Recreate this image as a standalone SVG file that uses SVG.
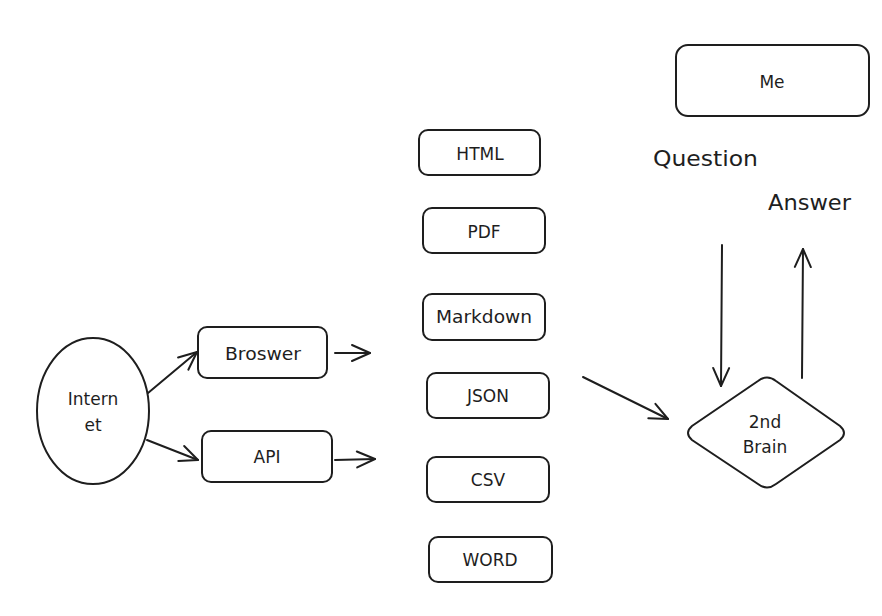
<svg xmlns="http://www.w3.org/2000/svg" width="882" height="616" viewBox="0 0 882 616">
<defs>
<style>
.s{fill:none;stroke:#1e1e1e;stroke-width:2;stroke-linecap:round;stroke-linejoin:round}
.b{fill:#fff;stroke:#1e1e1e;stroke-width:2}
.t{font-family:"DejaVu Sans","Liberation Sans",sans-serif;font-size:17px;fill:#1e1e1e;text-anchor:middle}
.l{font-family:"DejaVu Sans","Liberation Sans",sans-serif;font-size:21px;fill:#1e1e1e}
</style>
<marker id="ah" viewBox="0 0 22 22" refX="20" refY="11" markerWidth="22" markerHeight="22" markerUnits="userSpaceOnUse" orient="auto">
<path d="M2,3 L20,11 L2,19" fill="none" stroke="#1e1e1e" stroke-width="2" stroke-linecap="round" stroke-linejoin="round"/>
</marker>
</defs>
<rect width="882" height="616" fill="#fff"/>
<g id="connectors">
<line class="s" x1="148" y1="393" x2="197" y2="352" marker-end="url(#ah)"/>
<line class="s" x1="147" y1="440" x2="198" y2="460" marker-end="url(#ah)"/>
<line class="s" x1="335" y1="353" x2="370" y2="353" marker-end="url(#ah)"/>
<line class="s" x1="335" y1="460" x2="375" y2="459" marker-end="url(#ah)"/>
<line class="s" x1="583" y1="377" x2="668" y2="419" marker-end="url(#ah)"/>
<line class="s" x1="722" y1="245" x2="721" y2="386" marker-end="url(#ah)"/>
<line class="s" x1="802" y1="378" x2="803" y2="249" marker-end="url(#ah)"/>
</g>
<g id="internet">
<ellipse class="b" cx="93" cy="411" rx="56" ry="73"/>
<text class="t" x="93" y="405">Intern</text>
<text class="t" x="93" y="431">et</text>
</g>
<g id="browser">
<rect class="b" x="198" y="327" width="129" height="51" rx="9"/>
<text class="t" x="263" y="360" textLength="76" lengthAdjust="spacingAndGlyphs">Broswer</text>
</g>
<g id="api">
<rect class="b" x="202" y="431" width="130" height="51" rx="9"/>
<text class="t" x="267" y="463">API</text>
</g>
<g id="html">
<rect class="b" x="419" y="130" width="121" height="45" rx="9"/>
<text class="t" x="480" y="160">HTML</text>
</g>
<g id="pdf">
<rect class="b" x="423" y="208" width="122" height="45" rx="9"/>
<text class="t" x="484" y="238">PDF</text>
</g>
<g id="markdown">
<rect class="b" x="423" y="294" width="122" height="46" rx="9"/>
<text class="t" x="484" y="323" textLength="96" lengthAdjust="spacingAndGlyphs">Markdown</text>
</g>
<g id="json">
<rect class="b" x="427" y="373" width="122" height="45" rx="9"/>
<text class="t" x="488" y="402">JSON</text>
</g>
<g id="csv">
<rect class="b" x="427" y="457" width="122" height="45" rx="9"/>
<text class="t" x="488" y="486">CSV</text>
</g>
<g id="word">
<rect class="b" x="429" y="537" width="123" height="45" rx="9"/>
<text class="t" x="490" y="566">WORD</text>
</g>
<g id="brain">
<path class="b" d="M758,381 Q767,374 776,381 L840,426 Q848,433 840,440 L776,484 Q767,491 758,484 L692,440 Q684,433 692,426 Z"/>
<text class="t" x="765" y="428">2nd</text>
<text class="t" x="765" y="453">Brain</text>
</g>
<g id="me">
<rect class="b" x="676" y="45" width="193" height="71" rx="12"/>
<text class="t" x="772" y="88">Me</text>
</g>
<g id="labels">
<text class="l" x="653" y="166" textLength="105" lengthAdjust="spacingAndGlyphs">Question</text>
<text class="l" x="768" y="210" textLength="83" lengthAdjust="spacingAndGlyphs">Answer</text>
</g>
</svg>
